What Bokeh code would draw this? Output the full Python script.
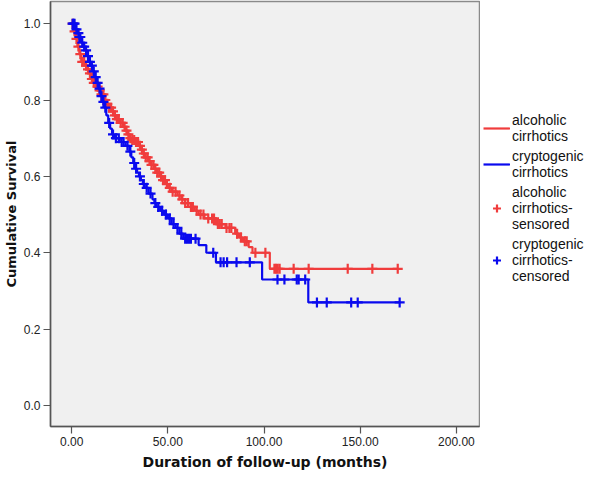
import numpy as np
from bokeh.plotting import figure
from bokeh.layouts import row
from bokeh.models import Legend, LegendItem, Range1d, FixedTicker, CustomJSTickFormatter
from bokeh.embed import file_html
from bokeh.resources import INLINE

# Kaplan-Meier step data (time in months, survival after event)
red_event_t = [0, 1, 2, 3, 4, 5, 7, 8, 9, 10, 11, 13, 14, 15, 17, 18, 19, 21, 22, 23,
               25, 27, 28, 29, 30, 31, 33, 35, 36, 37, 38, 40, 41, 43, 44, 46, 47, 49,
               50, 52, 55, 57, 59, 62, 64, 66, 69, 75, 80, 85, 87, 89, 92, 94, 103]
red_event_s = [1.0, 0.98, 0.96, 0.94, 0.92, 0.90, 0.89, 0.88, 0.87, 0.855, 0.845, 0.835,
               0.825, 0.815, 0.80, 0.79, 0.78, 0.77, 0.76, 0.75, 0.74, 0.73, 0.72, 0.71,
               0.70, 0.695, 0.69, 0.68, 0.67, 0.66, 0.65, 0.64, 0.63, 0.62, 0.61, 0.60,
               0.59, 0.58, 0.57, 0.56, 0.55, 0.54, 0.53, 0.52, 0.51, 0.50, 0.49, 0.475,
               0.465, 0.45, 0.44, 0.43, 0.415, 0.40, 0.358]
red_censor_t = [0.5, 1.5, 2.5, 3.5, 4.5, 5.5, 6.5, 7.5, 8.5, 9.5, 10.5, 11.5, 12.5, 13.5,
                14.5, 15.5, 16.5, 17.5, 18.5, 19.5, 20.5, 21.5, 22.5, 23.5, 24.5, 25.5,
                26.5, 27.5, 28.5, 29.5, 30.5, 31.5, 32.5, 33.5, 34.5, 35.5, 36.5, 37.5,
                38.5, 39.5, 40.5, 41.5, 42.5, 43.5, 44.5, 45.5, 46.5, 47.5, 48.5, 49.5,
                51, 52.5, 54, 56, 57.5, 59, 60.5, 62, 63, 65, 67, 68.5, 71, 73, 74, 76,
                77, 78, 80.5, 82, 83, 86, 88, 90, 91, 95.5, 100.7, 105.4, 106.2, 107.1,
                108.1, 115.4, 123.2, 143.5, 156.3, 169.5]

blue_event_t = [0, 2, 3, 4, 5, 6, 7, 8, 9, 10, 11, 12, 13, 14, 15, 16, 17, 18, 19, 20,
                21, 22, 25, 28, 30, 31, 32, 33, 34, 35, 36, 37, 38, 40, 42, 43, 44, 46,
                48, 50, 52, 54, 56, 58, 66, 70, 75, 99, 123]
blue_event_s = [1.0, 0.985, 0.975, 0.965, 0.95, 0.94, 0.93, 0.915, 0.90, 0.89, 0.875,
                0.86, 0.845, 0.83, 0.81, 0.795, 0.78, 0.76, 0.74, 0.725, 0.71, 0.70,
                0.69, 0.68, 0.665, 0.65, 0.635, 0.62, 0.61, 0.60, 0.59, 0.58, 0.57,
                0.555, 0.54, 0.53, 0.52, 0.51, 0.50, 0.49, 0.475, 0.465, 0.45, 0.437,
                0.42, 0.40, 0.375, 0.33, 0.27]
blue_censor_t = [0.5, 1, 1.5, 2.5, 3.5, 4, 4.5, 5.5, 6.5, 7.5, 8.5, 9.5, 10.5, 11.5, 12.5,
                 13.5, 14.5, 15.5, 16.5, 17.5, 19.5, 21.5, 23, 24.5, 26, 27, 29, 30.5,
                 32.5, 33.5, 35.5, 37.5, 39, 41, 43.5, 45, 47, 49, 51, 53, 55, 57, 59,
                 60, 61, 62, 64.4, 73.6, 77.4, 79, 80.8, 85.7, 92.6, 107, 110.6, 117,
                 118, 121.4, 127.5, 132.6, 145.3, 148.7, 170.5]

x_ticks = [0, 50, 100, 150, 200]
y_ticks = [0.0, 0.2, 0.4, 0.6, 0.8, 1.0]

legend_labels = ["alcoholic\ncirrhotics", "cryptogenic\ncirrhotics",
                 "alcoholic\ncirrhotics-\nsensored", "cryptogenic\ncirrhotics-\ncensored"]

RED = "#f03c3c"
BLUE = "#0a0aee"


def step_arrays(ev_t, ev_s, cens_t):
    t = list(ev_t) + [max(cens_t)]
    s = list(ev_s) + [ev_s[-1]]
    return t, s


def surv_at(ev_t, ev_s, times):
    idx = np.searchsorted(np.array(ev_t), np.array(times), side="right") - 1
    return list(np.array(ev_s)[idx])


H = 472
p = figure(width=480, height=H, output_backend="svg", toolbar_location=None,
           x_range=Range1d(-11, 212), y_range=Range1d(-0.055, 1.058),
           min_border_top=1, min_border_left=0, min_border_bottom=0, min_border_right=1)
p.background_fill_color = "#f0f0f0"
p.border_fill_color = "white"
p.outline_line_color = "#8a8a8a"
p.outline_line_width = 1.5
p.grid.visible = False

rt, rs = step_arrays(red_event_t, red_event_s, red_censor_t)
bt, bs = step_arrays(blue_event_t, blue_event_s, blue_censor_t)

line_kw = dict(line_width=2.2)
cens_kw = dict(marker="cross", size=10, line_width=2.2)

p.step(rt, rs, mode="after", line_color=RED, **line_kw)
p.scatter(red_censor_t, surv_at(red_event_t, red_event_s, red_censor_t),
          line_color=RED, **cens_kw)
p.step(bt, bs, mode="after", line_color=BLUE, **line_kw)
p.scatter(blue_censor_t, surv_at(blue_event_t, blue_event_s, blue_censor_t),
          line_color=BLUE, **cens_kw)

for ax in (p.xaxis[0], p.yaxis[0]):
    ax.axis_line_color = "#555555"
    ax.axis_line_width = 1.5
    ax.major_tick_line_color = "#555555"
    ax.major_tick_line_width = 1.2
    ax.major_tick_out = 7
    ax.major_tick_in = 0
    ax.minor_tick_line_color = None
    ax.major_label_text_font = "Liberation Sans"
    ax.major_label_text_font_size = "12px"
    ax.major_label_text_color = "#222222"
    ax.axis_label_text_font = "DejaVu Sans"
    ax.axis_label_text_font_style = "bold"
    ax.axis_label_text_color = "#111111"

p.xaxis.axis_label_text_font_size = "14px"
p.yaxis.axis_label_text_font_size = "13px"
p.xaxis.ticker = FixedTicker(ticks=x_ticks)
p.yaxis.ticker = FixedTicker(ticks=y_ticks)
p.xaxis.formatter = CustomJSTickFormatter(code="return tick.toFixed(2);")
p.yaxis.formatter = CustomJSTickFormatter(code="return tick.toFixed(1);")
p.xaxis.axis_label = "Duration of follow-up (months)"
p.yaxis.axis_label = "Cumulative Survival"
p.xaxis.major_label_standoff = 3
p.yaxis.major_label_standoff = 3
p.xaxis.axis_label_standoff = 5
p.yaxis.axis_label_standoff = 2

# Legend panel (separate figure; proxy renderers lie outside its visible range)
lf = figure(width=112, height=H, output_backend="svg", toolbar_location=None,
            x_range=Range1d(0, 1), y_range=Range1d(0, 1),
            min_border=0)
lf.axis.visible = False
lf.grid.visible = False
lf.outline_line_color = None
lf.background_fill_color = "white"
lf.border_fill_color = "white"
px, py = [5, 6], [5, 5]
g1 = lf.step(px, py, mode="after", line_color=RED, **line_kw)
g2 = lf.step(px, py, mode="after", line_color=BLUE, **line_kw)
g3 = lf.scatter(px, py, line_color=RED, **cens_kw)
g4 = lf.scatter(px, py, line_color=BLUE, **cens_kw)

legend = Legend(items=[LegendItem(label=lab, renderers=[g])
                       for lab, g in zip(legend_labels, [g1, g2, g3, g4])],
                location=(3, 142))
legend.label_text_font = "Liberation Sans"
legend.label_text_font_size = "14px"
legend.label_text_color = "#111111"
legend.label_standoff = 2
legend.glyph_width = 27
legend.spacing = 4
legend.padding = 0
legend.margin = 0
legend.border_line_alpha = 0
legend.background_fill_alpha = 0
lf.add_layout(legend, "center")

layout = row(p, lf)
open("out.html", "w").write(file_html(layout, INLINE))
